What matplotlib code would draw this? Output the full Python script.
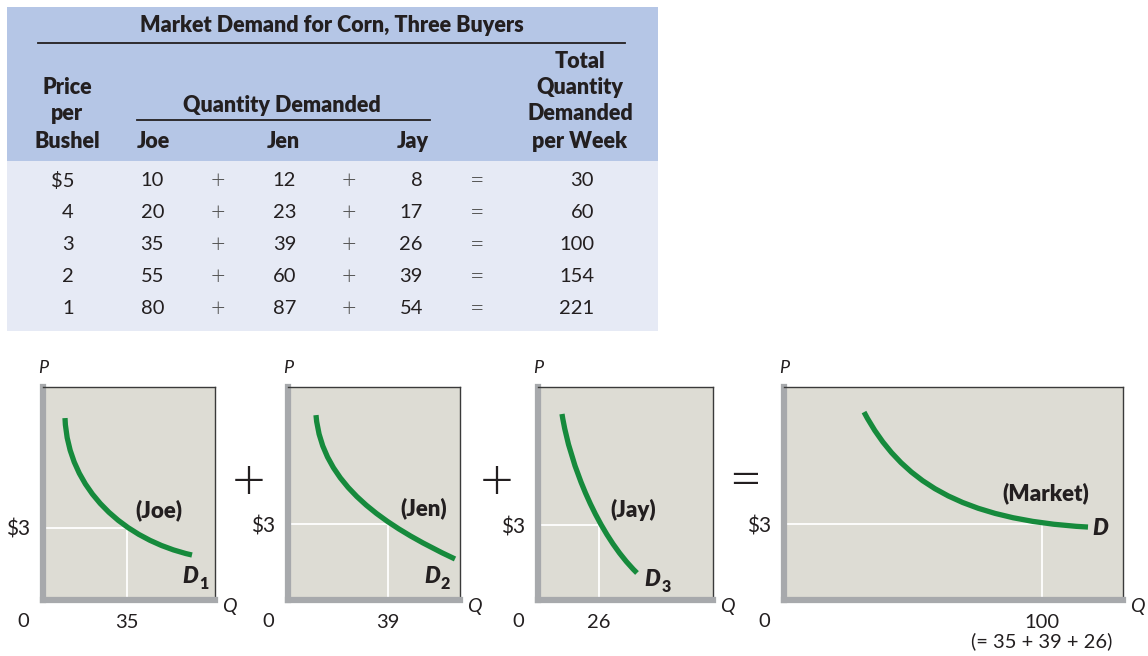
import matplotlib
matplotlib.use('Agg')
import matplotlib.pyplot as plt
from matplotlib.patches import Rectangle, PathPatch
from matplotlib.path import Path

plt.rcParams['font.family'] = ['Lato', 'DejaVu Sans']

# table data
prices = ['$5', '4', '3', '2', '1']
joe = [10, 20, 35, 55, 80]
jen = [12, 23, 39, 60, 87]
jay = [8, 17, 26, 39, 54]
total = [30, 60, 100, 154, 221]

# demand curves read off the panels as cubic Bezier points
# (start, control, control, end) in (quantity, price)
joe_q = [9.17, 10.42, 34.18, 62.11]
joe_p = [7.58, 4.58, 2.50, 1.875]
jen_q = [10.92, 13.26, 37.84, 65.15]
jen_p = [7.30, 4.54, 2.92, 1.62]
jay_q = [10.23, 13.64, 25.58, 42.20]
jay_p = [7.44, 5.40, 2.60, 1.08]
mkt_q = [31.01, 44.96, 68.22, 117.83]
mkt_p = [7.42, 4.74, 3.16, 2.88]

price_star = 3
q_star = [35, 39, 26, 100]

W, H = 1148, 656
ink = '#231f20'
green = '#168a3c'

fig = plt.figure(figsize=(W / 100, H / 100), dpi=100)
bg = fig.add_axes([0, 0, 1, 1])
bg.set_xlim(0, W)
bg.set_ylim(H, 0)
bg.axis('off')

# ---- table ----
bg.add_patch(Rectangle((7, 7), 651, 154, color='#b5c6e6', lw=0))
bg.add_patch(Rectangle((7, 161), 651, 170, color='#e6eaf5', lw=0))
bg.plot([38, 625], [43, 43], color=ink, lw=1.3)
bg.plot([137, 430], [120, 120], color=ink, lw=1.3)

hd = dict(fontsize=15.5, fontweight='heavy', color=ink, ha='center', va='center')
bg.text(332, 26, 'Market Demand for Corn, Three Buyers', **hd)
bg.text(282, 105, 'Quantity Demanded', **hd)
for yy, s in zip([88, 114, 141], ['Price', 'per', 'Bushel']):
    bg.text(67, yy, s, **hd)
for xx, s in zip([153, 283, 413], ['Joe', 'Jen', 'Jay']):
    bg.text(xx, 141, s, **hd)
for yy, s in zip([61, 88, 114, 141], ['Total', 'Quantity', 'Demanded', 'per Week']):
    bg.text(580, yy, s, **hd)

bd = dict(fontsize=14.5, color=ink, ha='right', va='center')
op = dict(fontsize=18, color='#555555', fontweight=300, ha='center', va='center')
row_y = [181, 213, 245, 277, 309]
for i, yy in enumerate(row_y):
    bg.text(74, yy, prices[i], **bd)
    bg.text(164, yy, str(joe[i]), **bd)
    bg.text(218, yy, '+', **op)
    bg.text(296, yy, str(jen[i]), **bd)
    bg.text(349, yy, '+', **op)
    bg.text(423, yy, str(jay[i]), **bd)
    bg.text(477, yy, '=', **op)
    bg.text(594, yy, str(total[i]), **bd)

# ---- panels ----
panels = [
    # left, right px, xmax, ymax, curve, label, label pos, D pos, subscript
    (43, 215, 71.7, 8.875, joe_q, joe_p, '(Joe)', (0.674, 0.423), (0.81, 0.108), '1'),
    (288, 460, 67.1, 8.41, jen_q, jen_p, '(Jen)', (0.79, 0.432), (0.79, 0.108), '2'),
    (538, 713, 74.6, 8.52, jay_q, jay_p, '(Jay)', (0.543, 0.423), (0.61, 0.094), '3'),
    (784, 1123, 131.4, 8.41, mkt_q, mkt_p, '(Market)', (0.773, 0.502), (0.91, 0.338), ''),
]
top, bottom = 387, 600
bez = [Path.MOVETO, Path.CURVE4, Path.CURVE4, Path.CURVE4]

for k, (x0, x1, xmax, ymax, cq, cp, lab, lpos, dpos, sub) in enumerate(panels):
    ax = fig.add_axes([x0 / W, 1 - bottom / H, (x1 - x0) / W, (bottom - top) / H])
    ax.set_facecolor('#dddcd4')
    ax.set_xlim(0, xmax)
    ax.set_ylim(0, ymax)
    for s in ['left', 'bottom']:
        ax.spines[s].set_color('#a7a9ac')
        ax.spines[s].set_linewidth(4.5)
    for s in ['top', 'right']:
        ax.spines[s].set_color('#3a3a3a')
        ax.spines[s].set_linewidth(1)
    qs = q_star[k]
    ax.plot([0, qs], [price_star, price_star], color='white', lw=1.3, zorder=2)
    ax.plot([qs, qs], [0, price_star], color='white', lw=1.3, zorder=2)
    ax.add_patch(PathPatch(Path(list(zip(cq, cp)), bez), facecolor='none',
                           edgecolor=green, lw=3.8, capstyle='butt', zorder=3))

    ax.set_yticks([price_star])
    ax.set_yticklabels(['$' + str(price_star)], fontsize=15, color=ink)
    ax.set_xticks([qs])
    if k == 3:
        ax.set_xticklabels([str(qs) + '\n(= ' + ' + '.join(str(v) for v in q_star[:3]) + ')'],
                           fontsize=14.5, color=ink, linespacing=1.1)
    else:
        ax.set_xticklabels([str(qs)], fontsize=14.5, color=ink)
    ax.tick_params(length=0, pad=10)
    ax.tick_params(axis='y', pad=9)

    pw = x1 - x0
    ax.text(0.0, 1.09, 'P', transform=ax.transAxes, fontsize=13, style='italic',
            color=ink, ha='center', va='center')
    ax.text(-20 / pw, -0.103, '0', transform=ax.transAxes, fontsize=14.5, color=ink,
            ha='center', va='center')
    ax.text(1.0 + 14 / pw, -0.03, 'Q', transform=ax.transAxes, fontsize=14,
            style='italic', color=ink, ha='center', va='center')
    ax.text(lpos[0], lpos[1], lab, transform=ax.transAxes, fontsize=16,
            fontweight='heavy', color=ink, ha='center', va='center')
    ax.text(dpos[0], dpos[1], 'D', transform=ax.transAxes, fontsize=16,
            fontweight='heavy', style='italic', color=ink, ha='left', va='center')
    if sub:
        ax.annotate(sub, xy=dpos, xycoords='axes fraction', xytext=(12, -5),
                    textcoords='offset points', fontsize=11.5, fontweight='heavy',
                    color=ink, ha='left', va='center')

# operators between panels
for xx, s in zip([249, 497, 745], ['+', '+', '=']):
    bg.text(xx, 483, s, fontsize=42, fontweight=300, color=ink, ha='center', va='center')

fig.savefig('out.png', dpi=100)
